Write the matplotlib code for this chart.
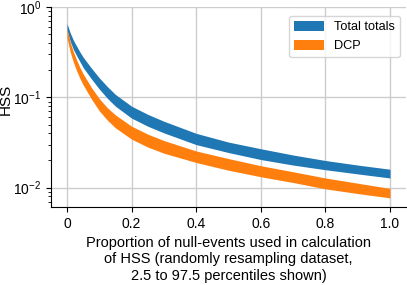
import matplotlib
matplotlib.use("Agg")
import matplotlib.pyplot as plt
import numpy as np

plt.rcParams['font.family'] = ['Liberation Sans', 'DejaVu Sans']

x = [0.0, 0.01, 0.02, 0.03, 0.04, 0.05, 0.075, 0.1, 0.125, 0.15, 0.2, 0.25, 0.3, 0.4, 0.5, 0.6, 0.7, 0.8, 0.9, 1.0]
tt_hi = [0.66, 0.52, 0.43, 0.37, 0.32, 0.28, 0.213, 0.165, 0.132, 0.108, 0.080, 0.065, 0.0545, 0.040, 0.032, 0.027, 0.023, 0.020, 0.0178, 0.016]
tt_lo = [0.56, 0.42, 0.34, 0.29, 0.25, 0.215, 0.162, 0.124, 0.098, 0.080, 0.059, 0.048, 0.0405, 0.030, 0.0245, 0.0205, 0.0178, 0.0158, 0.0142, 0.0128]
dcp_hi = [0.58, 0.41, 0.32, 0.26, 0.215, 0.183, 0.13, 0.097, 0.077, 0.064, 0.048, 0.0392, 0.0333, 0.0255, 0.021, 0.0175, 0.015, 0.0128, 0.0112, 0.0098]
dcp_lo = [0.46, 0.32, 0.245, 0.197, 0.163, 0.138, 0.097, 0.071, 0.056, 0.046, 0.0345, 0.0282, 0.0241, 0.019, 0.0156, 0.0132, 0.0114, 0.0097, 0.0086, 0.0077]

xticks = [0, 0.2, 0.4, 0.6, 0.8, 1.0]
xticklabels = ["0", "0.2", "0.4", "0.6", "0.8", "1.0"]

fig = plt.figure(figsize=(4.07, 2.85), dpi=100)
ax = fig.add_axes([0.1249, 0.2737, 0.873, 0.7007])

ax.fill_between(x, tt_lo, tt_hi, color='#1f77b4', lw=0, label='Total totals', zorder=3)
ax.fill_between(x, dcp_lo, dcp_hi, color='#ff7f0e', lw=0, label='DCP', zorder=3)

ax.set_yscale('log')
ax.set_ylim(0.0061, 1.0)
ax.set_xlim(-0.05, 1.05)
ax.set_xticks(xticks)
ax.set_xticklabels(xticklabels)
ax.grid(True, which='major', color='#cccccc', lw=1.0, zorder=0)
ax.set_axisbelow(True)
ax.spines['top'].set_visible(False)
ax.spines['right'].set_visible(False)
ax.tick_params(labelsize=10)

ax.set_ylabel('HSS', fontsize=11)
ax.yaxis.set_label_coords(-0.108, 0.54)
ax.set_xlabel('Proportion of null-events used in calculation\nof HSS (randomly resampling dataset,\n2.5 to 97.5 percentiles shown)', fontsize=10.5)

ax.legend(loc='upper right', fontsize=9.2, bbox_to_anchor=(1.0, 0.99),
          handleheight=0.85, handlelength=2.3)

fig.savefig('out.png', dpi=100)
